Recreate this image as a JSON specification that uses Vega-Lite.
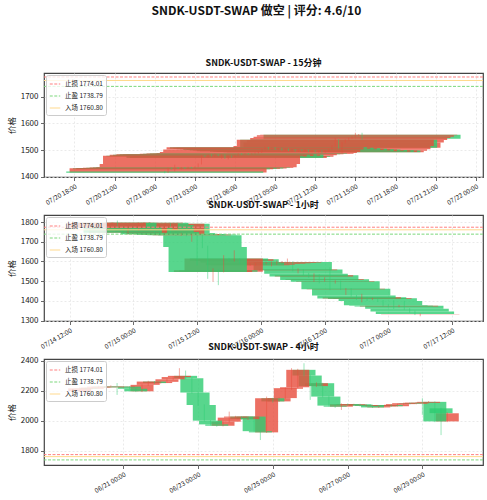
{
  "$schema": "https://vega.github.io/schema/vega-lite/v6.json",
  "background": "white",
  "padding": {"left": 6, "top": 5, "right": 4, "bottom": 4},
  "bounds": "flush",
  "spacing": 38,
  "title": {"text": "SNDK-USDT-SWAP 做空 | 评分: 4.6/10", "fontSize": 12, "fontWeight": "bold", "anchor": "middle", "offset": 40, "dx": 11, "color": "#111111"},
  "datasets": {
    "levels": [
      {"label": "止损 1774.01", "price": 1774.01},
      {"label": "止盈 1738.79", "price": 1738.79},
      {"label": "入场 1760.80", "price": 1760.80}
    ],
    "m15": [
      {"t": "2025-07-21T15:30:00", "o": 1557, "h": 1565, "l": 1539, "c": 1542},
      {"t": "2025-07-21T15:15:00", "o": 1556, "h": 1560, "l": 1552, "c": 1557},
      {"t": "2025-07-21T15:00:00", "o": 1550, "h": 1565, "l": 1548, "c": 1556},
      {"t": "2025-07-21T14:45:00", "o": 1545, "h": 1552, "l": 1543, "c": 1550},
      {"t": "2025-07-21T14:30:00", "o": 1538, "h": 1547, "l": 1536, "c": 1545},
      {"t": "2025-07-21T14:15:00", "o": 1528, "h": 1540, "l": 1526, "c": 1538},
      {"t": "2025-07-21T14:00:00", "o": 1509, "h": 1530, "l": 1490, "c": 1528},
      {"t": "2025-07-21T13:45:00", "o": 1539, "h": 1541, "l": 1505, "c": 1509},
      {"t": "2025-07-21T13:30:00", "o": 1515, "h": 1545, "l": 1513, "c": 1539},
      {"t": "2025-07-21T13:15:00", "o": 1503, "h": 1517, "l": 1501, "c": 1515},
      {"t": "2025-07-21T13:00:00", "o": 1497, "h": 1504, "l": 1495, "c": 1503},
      {"t": "2025-07-21T12:45:00", "o": 1492, "h": 1498, "l": 1490, "c": 1497},
      {"t": "2025-07-21T12:30:00", "o": 1498, "h": 1499, "l": 1490, "c": 1492},
      {"t": "2025-07-21T12:15:00", "o": 1493, "h": 1499, "l": 1491, "c": 1498},
      {"t": "2025-07-21T12:00:00", "o": 1499, "h": 1500, "l": 1491, "c": 1493},
      {"t": "2025-07-21T11:45:00", "o": 1494, "h": 1500, "l": 1492, "c": 1499},
      {"t": "2025-07-21T11:30:00", "o": 1500, "h": 1502, "l": 1492, "c": 1494},
      {"t": "2025-07-21T11:15:00", "o": 1497, "h": 1501, "l": 1495, "c": 1500},
      {"t": "2025-07-21T11:00:00", "o": 1502, "h": 1503, "l": 1495, "c": 1497},
      {"t": "2025-07-21T10:45:00", "o": 1496, "h": 1503, "l": 1495, "c": 1502},
      {"t": "2025-07-21T10:30:00", "o": 1503, "h": 1504, "l": 1494, "c": 1496},
      {"t": "2025-07-21T10:15:00", "o": 1498, "h": 1504, "l": 1496, "c": 1503},
      {"t": "2025-07-21T10:00:00", "o": 1505, "h": 1506, "l": 1496, "c": 1498},
      {"t": "2025-07-21T09:45:00", "o": 1500, "h": 1506, "l": 1498, "c": 1505},
      {"t": "2025-07-21T09:30:00", "o": 1507, "h": 1508, "l": 1498, "c": 1500},
      {"t": "2025-07-21T09:15:00", "o": 1503, "h": 1508, "l": 1500, "c": 1507},
      {"t": "2025-07-21T09:00:00", "o": 1509, "h": 1511, "l": 1501, "c": 1503},
      {"t": "2025-07-21T08:45:00", "o": 1505, "h": 1510, "l": 1503, "c": 1509},
      {"t": "2025-07-21T08:30:00", "o": 1511, "h": 1512, "l": 1503, "c": 1505},
      {"t": "2025-07-21T08:15:00", "o": 1502, "h": 1513, "l": 1500, "c": 1511},
      {"t": "2025-07-21T08:00:00", "o": 1493, "h": 1504, "l": 1490, "c": 1502},
      {"t": "2025-07-21T07:45:00", "o": 1489, "h": 1495, "l": 1487, "c": 1493},
      {"t": "2025-07-21T07:30:00", "o": 1486, "h": 1491, "l": 1485, "c": 1489},
      {"t": "2025-07-21T07:15:00", "o": 1485, "h": 1488, "l": 1484, "c": 1486},
      {"t": "2025-07-21T07:00:00", "o": 1487, "h": 1489, "l": 1483, "c": 1485},
      {"t": "2025-07-21T06:45:00", "o": 1484, "h": 1488, "l": 1483, "c": 1487},
      {"t": "2025-07-21T06:30:00", "o": 1486, "h": 1488, "l": 1482, "c": 1484},
      {"t": "2025-07-21T06:15:00", "o": 1481, "h": 1487, "l": 1479, "c": 1486},
      {"t": "2025-07-21T06:00:00", "o": 1475, "h": 1482, "l": 1474, "c": 1481},
      {"t": "2025-07-21T05:45:00", "o": 1478, "h": 1480, "l": 1472, "c": 1475},
      {"t": "2025-07-21T05:30:00", "o": 1470, "h": 1479, "l": 1465, "c": 1478},
      {"t": "2025-07-21T05:15:00", "o": 1483, "h": 1484, "l": 1467, "c": 1470},
      {"t": "2025-07-21T05:00:00", "o": 1479, "h": 1484, "l": 1468, "c": 1483},
      {"t": "2025-07-21T04:45:00", "o": 1484, "h": 1485, "l": 1477, "c": 1479},
      {"t": "2025-07-21T04:30:00", "o": 1478, "h": 1486, "l": 1476, "c": 1484},
      {"t": "2025-07-21T04:15:00", "o": 1482, "h": 1484, "l": 1476, "c": 1478},
      {"t": "2025-07-21T04:00:00", "o": 1476, "h": 1483, "l": 1473, "c": 1482},
      {"t": "2025-07-21T03:45:00", "o": 1479, "h": 1481, "l": 1474, "c": 1476},
      {"t": "2025-07-21T03:30:00", "o": 1448, "h": 1481, "l": 1446, "c": 1479},
      {"t": "2025-07-21T03:15:00", "o": 1436, "h": 1450, "l": 1435, "c": 1448},
      {"t": "2025-07-21T03:00:00", "o": 1433, "h": 1438, "l": 1431, "c": 1436},
      {"t": "2025-07-21T02:45:00", "o": 1435, "h": 1437, "l": 1431, "c": 1433},
      {"t": "2025-07-21T02:30:00", "o": 1431, "h": 1437, "l": 1430, "c": 1435},
      {"t": "2025-07-21T02:15:00", "o": 1434, "h": 1436, "l": 1429, "c": 1431},
      {"t": "2025-07-21T02:00:00", "o": 1430, "h": 1436, "l": 1428, "c": 1434},
      {"t": "2025-07-21T01:45:00", "o": 1433, "h": 1436, "l": 1429, "c": 1430},
      {"t": "2025-07-21T01:30:00", "o": 1428, "h": 1445, "l": 1420, "c": 1433},
      {"t": "2025-07-21T01:15:00", "o": 1432, "h": 1434, "l": 1427, "c": 1428},
      {"t": "2025-07-21T01:00:00", "o": 1416, "h": 1434, "l": 1414, "c": 1432},
      {"t": "2025-07-21T00:45:00", "o": 1420, "h": 1422, "l": 1413, "c": 1415}
    ],
    "h1": [
      {"t": "2025-07-17T06:00:00", "o": 1332, "h": 1336, "l": 1322, "c": 1334},
      {"t": "2025-07-17T05:00:00", "o": 1346, "h": 1350, "l": 1328, "c": 1333},
      {"t": "2025-07-17T04:00:00", "o": 1360, "h": 1363, "l": 1340, "c": 1346},
      {"t": "2025-07-17T03:00:00", "o": 1376, "h": 1400, "l": 1355, "c": 1360},
      {"t": "2025-07-17T02:00:00", "o": 1372, "h": 1380, "l": 1368, "c": 1376},
      {"t": "2025-07-17T01:00:00", "o": 1375, "h": 1404, "l": 1359, "c": 1372},
      {"t": "2025-07-17T00:00:00", "o": 1378, "h": 1382, "l": 1368, "c": 1375},
      {"t": "2025-07-16T23:00:00", "o": 1400, "h": 1404, "l": 1372, "c": 1378},
      {"t": "2025-07-16T22:00:00", "o": 1413, "h": 1415, "l": 1395, "c": 1400},
      {"t": "2025-07-16T21:00:00", "o": 1410, "h": 1416, "l": 1404, "c": 1413},
      {"t": "2025-07-16T20:00:00", "o": 1418, "h": 1420, "l": 1400, "c": 1410},
      {"t": "2025-07-16T19:00:00", "o": 1412, "h": 1436, "l": 1393, "c": 1418},
      {"t": "2025-07-16T18:00:00", "o": 1427, "h": 1430, "l": 1405, "c": 1412},
      {"t": "2025-07-16T17:00:00", "o": 1462, "h": 1464, "l": 1422, "c": 1427},
      {"t": "2025-07-16T16:00:00", "o": 1459, "h": 1465, "l": 1430, "c": 1462},
      {"t": "2025-07-16T15:00:00", "o": 1500, "h": 1503, "l": 1455, "c": 1459},
      {"t": "2025-07-16T14:00:00", "o": 1497, "h": 1505, "l": 1488, "c": 1500},
      {"t": "2025-07-16T13:00:00", "o": 1510, "h": 1570, "l": 1455, "c": 1497},
      {"t": "2025-07-16T12:00:00", "o": 1506, "h": 1520, "l": 1498, "c": 1510},
      {"t": "2025-07-16T11:00:00", "o": 1530, "h": 1535, "l": 1490, "c": 1506},
      {"t": "2025-07-16T10:00:00", "o": 1524, "h": 1540, "l": 1497, "c": 1530},
      {"t": "2025-07-16T09:00:00", "o": 1538, "h": 1542, "l": 1518, "c": 1524},
      {"t": "2025-07-16T08:00:00", "o": 1560, "h": 1562, "l": 1530, "c": 1538},
      {"t": "2025-07-16T07:00:00", "o": 1556, "h": 1565, "l": 1540, "c": 1560},
      {"t": "2025-07-16T06:00:00", "o": 1598, "h": 1600, "l": 1550, "c": 1556},
      {"t": "2025-07-16T05:00:00", "o": 1597, "h": 1615, "l": 1590, "c": 1598},
      {"t": "2025-07-16T04:00:00", "o": 1595, "h": 1602, "l": 1590, "c": 1597},
      {"t": "2025-07-16T03:00:00", "o": 1593, "h": 1605, "l": 1583, "c": 1595},
      {"t": "2025-07-16T02:00:00", "o": 1591, "h": 1600, "l": 1575, "c": 1593},
      {"t": "2025-07-16T01:00:00", "o": 1589, "h": 1598, "l": 1585, "c": 1591},
      {"t": "2025-07-16T00:00:00", "o": 1587, "h": 1595, "l": 1583, "c": 1589},
      {"t": "2025-07-15T23:00:00", "o": 1584, "h": 1592, "l": 1580, "c": 1587},
      {"t": "2025-07-15T22:00:00", "o": 1581, "h": 1590, "l": 1578, "c": 1584},
      {"t": "2025-07-15T21:00:00", "o": 1595, "h": 1598, "l": 1575, "c": 1581},
      {"t": "2025-07-15T20:00:00", "o": 1612, "h": 1615, "l": 1590, "c": 1595},
      {"t": "2025-07-15T19:00:00", "o": 1604, "h": 1657, "l": 1600, "c": 1612},
      {"t": "2025-07-15T18:00:00", "o": 1615, "h": 1618, "l": 1598, "c": 1604},
      {"t": "2025-07-15T17:00:00", "o": 1548, "h": 1632, "l": 1545, "c": 1615},
      {"t": "2025-07-15T16:00:00", "o": 1556, "h": 1560, "l": 1480, "c": 1548},
      {"t": "2025-07-15T15:00:00", "o": 1547, "h": 1565, "l": 1497, "c": 1556},
      {"t": "2025-07-15T14:00:00", "o": 1674, "h": 1680, "l": 1512, "c": 1547},
      {"t": "2025-07-15T13:00:00", "o": 1733, "h": 1736, "l": 1668, "c": 1674},
      {"t": "2025-07-15T12:00:00", "o": 1737, "h": 1740, "l": 1580, "c": 1733},
      {"t": "2025-07-15T11:00:00", "o": 1733, "h": 1740, "l": 1700, "c": 1737},
      {"t": "2025-07-15T10:00:00", "o": 1740, "h": 1744, "l": 1728, "c": 1733},
      {"t": "2025-07-15T09:00:00", "o": 1735, "h": 1745, "l": 1730, "c": 1740},
      {"t": "2025-07-15T08:00:00", "o": 1745, "h": 1750, "l": 1730, "c": 1735},
      {"t": "2025-07-15T07:00:00", "o": 1792, "h": 1795, "l": 1740, "c": 1745},
      {"t": "2025-07-15T06:00:00", "o": 1738, "h": 1796, "l": 1736, "c": 1792},
      {"t": "2025-07-15T05:00:00", "o": 1750, "h": 1755, "l": 1734, "c": 1738},
      {"t": "2025-07-15T04:00:00", "o": 1785, "h": 1788, "l": 1745, "c": 1750},
      {"t": "2025-07-15T03:00:00", "o": 1797, "h": 1800, "l": 1780, "c": 1785},
      {"t": "2025-07-15T02:00:00", "o": 1794, "h": 1800, "l": 1790, "c": 1797},
      {"t": "2025-07-15T01:00:00", "o": 1760, "h": 1798, "l": 1757, "c": 1794},
      {"t": "2025-07-15T00:00:00", "o": 1771, "h": 1774, "l": 1755, "c": 1760},
      {"t": "2025-07-14T23:00:00", "o": 1746, "h": 1775, "l": 1742, "c": 1771},
      {"t": "2025-07-14T22:00:00", "o": 1772, "h": 1776, "l": 1742, "c": 1746},
      {"t": "2025-07-14T21:00:00", "o": 1797, "h": 1808, "l": 1768, "c": 1772},
      {"t": "2025-07-14T20:00:00", "o": 1795, "h": 1799, "l": 1790, "c": 1797},
      {"t": "2025-07-14T19:00:00", "o": 1771, "h": 1800, "l": 1765, "c": 1795}
    ],
    "h4": [
      {"t": "2025-06-29T16:00:00", "o": 1995, "h": 2055, "l": 1990, "c": 2049},
      {"t": "2025-06-29T12:00:00", "o": 2082, "h": 2085, "l": 1904, "c": 2050},
      {"t": "2025-06-29T08:00:00", "o": 2125, "h": 2128, "l": 1990, "c": 1995},
      {"t": "2025-06-29T04:00:00", "o": 2118, "h": 2130, "l": 2114, "c": 2125},
      {"t": "2025-06-29T00:00:00", "o": 2120, "h": 2149, "l": 2038, "c": 2118},
      {"t": "2025-06-28T20:00:00", "o": 2112, "h": 2124, "l": 2108, "c": 2120},
      {"t": "2025-06-28T16:00:00", "o": 2116, "h": 2122, "l": 2108, "c": 2112},
      {"t": "2025-06-28T12:00:00", "o": 2110, "h": 2120, "l": 2106, "c": 2116},
      {"t": "2025-06-28T08:00:00", "o": 2096, "h": 2114, "l": 2093, "c": 2110},
      {"t": "2025-06-28T04:00:00", "o": 2104, "h": 2108, "l": 2092, "c": 2096},
      {"t": "2025-06-28T00:00:00", "o": 2095, "h": 2108, "l": 2090, "c": 2104},
      {"t": "2025-06-27T20:00:00", "o": 2088, "h": 2100, "l": 2085, "c": 2095},
      {"t": "2025-06-27T16:00:00", "o": 2104, "h": 2107, "l": 2084, "c": 2088},
      {"t": "2025-06-27T12:00:00", "o": 2098, "h": 2108, "l": 2093, "c": 2104},
      {"t": "2025-06-27T08:00:00", "o": 2109, "h": 2112, "l": 2094, "c": 2098},
      {"t": "2025-06-27T04:00:00", "o": 2104, "h": 2112, "l": 2100, "c": 2109},
      {"t": "2025-06-27T00:00:00", "o": 2110, "h": 2114, "l": 2098, "c": 2104},
      {"t": "2025-06-26T20:00:00", "o": 2093, "h": 2115, "l": 2071, "c": 2110},
      {"t": "2025-06-26T16:00:00", "o": 2100, "h": 2110, "l": 2085, "c": 2093},
      {"t": "2025-06-26T12:00:00", "o": 2160, "h": 2165, "l": 2095, "c": 2100},
      {"t": "2025-06-26T08:00:00", "o": 2249, "h": 2252, "l": 2155, "c": 2160},
      {"t": "2025-06-26T04:00:00", "o": 2230, "h": 2255, "l": 2225, "c": 2249},
      {"t": "2025-06-26T00:00:00", "o": 2300, "h": 2305, "l": 2138, "c": 2230},
      {"t": "2025-06-25T20:00:00", "o": 2338, "h": 2382, "l": 2295, "c": 2300},
      {"t": "2025-06-25T16:00:00", "o": 2222, "h": 2345, "l": 2215, "c": 2338},
      {"t": "2025-06-25T12:00:00", "o": 2212, "h": 2349, "l": 2205, "c": 2222},
      {"t": "2025-06-25T08:00:00", "o": 2150, "h": 2220, "l": 2145, "c": 2216},
      {"t": "2025-06-25T04:00:00", "o": 2128, "h": 2155, "l": 2124, "c": 2150},
      {"t": "2025-06-25T00:00:00", "o": 2149, "h": 2152, "l": 2120, "c": 2128},
      {"t": "2025-06-24T20:00:00", "o": 1922, "h": 2160, "l": 1918, "c": 2149},
      {"t": "2025-06-24T16:00:00", "o": 1930, "h": 1935, "l": 1871, "c": 1922},
      {"t": "2025-06-24T12:00:00", "o": 2027, "h": 2030, "l": 1925, "c": 1930},
      {"t": "2025-06-24T08:00:00", "o": 2010, "h": 2030, "l": 2005, "c": 2027},
      {"t": "2025-06-24T04:00:00", "o": 2027, "h": 2030, "l": 2005, "c": 2010},
      {"t": "2025-06-24T00:00:00", "o": 2020, "h": 2032, "l": 2015, "c": 2027},
      {"t": "2025-06-23T20:00:00", "o": 1993, "h": 2060, "l": 1988, "c": 2020},
      {"t": "2025-06-23T16:00:00", "o": 1966, "h": 1998, "l": 1962, "c": 1993},
      {"t": "2025-06-23T12:00:00", "o": 1975, "h": 1982, "l": 1960, "c": 1966},
      {"t": "2025-06-23T08:00:00", "o": 2000, "h": 2004, "l": 1968, "c": 1975},
      {"t": "2025-06-23T04:00:00", "o": 2104, "h": 2108, "l": 1994, "c": 2000},
      {"t": "2025-06-23T00:00:00", "o": 2187, "h": 2190, "l": 2098, "c": 2104},
      {"t": "2025-06-22T20:00:00", "o": 2282, "h": 2286, "l": 2180, "c": 2187},
      {"t": "2025-06-22T16:00:00", "o": 2298, "h": 2333, "l": 2276, "c": 2282},
      {"t": "2025-06-22T12:00:00", "o": 2290, "h": 2349, "l": 2285, "c": 2298},
      {"t": "2025-06-22T08:00:00", "o": 2275, "h": 2296, "l": 2270, "c": 2290},
      {"t": "2025-06-22T04:00:00", "o": 2258, "h": 2280, "l": 2254, "c": 2275},
      {"t": "2025-06-22T00:00:00", "o": 2250, "h": 2262, "l": 2246, "c": 2258},
      {"t": "2025-06-21T20:00:00", "o": 2260, "h": 2264, "l": 2245, "c": 2250},
      {"t": "2025-06-21T16:00:00", "o": 2238, "h": 2265, "l": 2232, "c": 2260},
      {"t": "2025-06-21T12:00:00", "o": 2195, "h": 2242, "l": 2190, "c": 2238},
      {"t": "2025-06-21T08:00:00", "o": 2212, "h": 2215, "l": 2190, "c": 2195},
      {"t": "2025-06-21T04:00:00", "o": 2226, "h": 2230, "l": 2208, "c": 2212},
      {"t": "2025-06-21T00:00:00", "o": 2223, "h": 2230, "l": 2218, "c": 2226},
      {"t": "2025-06-20T20:00:00", "o": 2226, "h": 2250, "l": 2171, "c": 2223},
      {"t": "2025-06-20T16:00:00", "o": 2222, "h": 2235, "l": 2218, "c": 2226},
      {"t": "2025-06-20T12:00:00", "o": 2226, "h": 2230, "l": 2218, "c": 2222},
      {"t": "2025-06-20T08:00:00", "o": 2220, "h": 2232, "l": 2215, "c": 2226},
      {"t": "2025-06-20T04:00:00", "o": 2212, "h": 2226, "l": 2208, "c": 2220},
      {"t": "2025-06-20T00:00:00", "o": 2215, "h": 2220, "l": 2205, "c": 2212},
      {"t": "2025-06-19T20:00:00", "o": 2195, "h": 2222, "l": 2190, "c": 2215}
    ]
  },
  "vconcat": [
    {
      "title": {"text": "SNDK-USDT-SWAP - 15分钟", "fontSize": 9, "fontWeight": "bold", "offset": 5, "color": "#111111"},
      "width": 439,
      "height": 104,
      "layer": [
        {
          "data": {"name": "m15"},
          "mark": {"type": "bar", "size": 197, "opacity": 0.8, "clip": true},
          "encoding": {
            "x": {"field": "t", "type": "temporal",
              "scale": {"domain": [{"year": 2025, "month": 7, "date": 20, "hours": 16, "minutes": 6}, {"year": 2025, "month": 7, "date": 22, "hours": 0, "minutes": 10}]},
              "axis": {"title": null, "format": "%m/%d %H:%M", "tickCount": 30,
                "values": [
                  {"year": 2025, "month": 7, "date": 20, "hours": 18},
                  {"year": 2025, "month": 7, "date": 20, "hours": 21},
                  {"year": 2025, "month": 7, "date": 21, "hours": 0},
                  {"year": 2025, "month": 7, "date": 21, "hours": 3},
                  {"year": 2025, "month": 7, "date": 21, "hours": 6},
                  {"year": 2025, "month": 7, "date": 21, "hours": 9},
                  {"year": 2025, "month": 7, "date": 21, "hours": 12},
                  {"year": 2025, "month": 7, "date": 21, "hours": 15},
                  {"year": 2025, "month": 7, "date": 21, "hours": 18},
                  {"year": 2025, "month": 7, "date": 21, "hours": 21},
                  {"year": 2025, "month": 7, "date": 22, "hours": 0}
                ]}},
            "y": {"field": "o", "type": "quantitative", "scale": {"domain": [1399, 1789], "zero": false, "nice": false},
              "axis": {"title": "价格", "format": "d", "tickCount": 20, "values": [1400, 1500, 1600, 1700], "labelOverlap": false, "labelAngle": 0, "labelAlign": "right", "labelBaseline": "middle"}},
            "y2": {"field": "c"},
            "color": {"condition": {"test": "datum.c >= datum.o", "value": "#e74c3c"}, "value": "#2ecc71"}
          }
        },
        {
          "data": {"name": "m15"},
          "mark": {"type": "rule", "strokeWidth": 0.8, "opacity": 0.6, "clip": true},
          "encoding": {
            "x": {"field": "t", "type": "temporal"},
            "y": {"field": "l", "type": "quantitative"},
            "y2": {"field": "h"},
            "color": {"condition": {"test": "datum.c >= datum.o", "value": "#e74c3c"}, "value": "#2ecc71"}
          }
        },
        {
          "data": {"name": "levels"},
          "mark": {"type": "rule", "strokeWidth": 1},
          "encoding": {
            "y": {"field": "price", "type": "quantitative"},
            "color": {"field": "label", "type": "nominal", "scale": {"domain": ["止损 1774.01", "止盈 1738.79", "入场 1760.80"], "range": ["#ff8080", "#7dd87d", "#ffd98c"]}, "legend": {"title": null}},
            "strokeDash": {"field": "label", "type": "nominal", "scale": {"domain": ["止损 1774.01", "止盈 1738.79", "入场 1760.80"], "range": [[3, 1.5], [3, 1.5], [1, 0]]}, "legend": {"title": null}}
          }
        }
      ]
    },
    {
      "title": {"text": "SNDK-USDT-SWAP - 1小时", "fontSize": 9, "fontWeight": "bold", "offset": 5, "color": "#111111"},
      "width": 439,
      "height": 106,
      "layer": [
        {
          "data": {"name": "h1"},
          "mark": {"type": "bar", "size": 78.3, "opacity": 0.8, "clip": true},
          "encoding": {
            "x": {"field": "t", "type": "temporal",
              "scale": {"domain": [{"year": 2025, "month": 7, "date": 14, "hours": 8, "minutes": 8}, {"year": 2025, "month": 7, "date": 17, "hours": 16, "minutes": 52}]},
              "axis": {"title": null, "format": "%m/%d %H:%M", "tickCount": 30,
                "values": [
                  {"year": 2025, "month": 7, "date": 14, "hours": 12},
                  {"year": 2025, "month": 7, "date": 15, "hours": 0},
                  {"year": 2025, "month": 7, "date": 15, "hours": 12},
                  {"year": 2025, "month": 7, "date": 16, "hours": 0},
                  {"year": 2025, "month": 7, "date": 16, "hours": 12},
                  {"year": 2025, "month": 7, "date": 17, "hours": 0},
                  {"year": 2025, "month": 7, "date": 17, "hours": 12}
                ]}},
            "y": {"field": "o", "type": "quantitative", "scale": {"domain": [1298, 1836], "zero": false, "nice": false},
              "axis": {"title": "价格", "format": "d", "tickCount": 20, "values": [1300, 1400, 1500, 1600, 1700, 1800], "labelOverlap": false, "labelAngle": 0, "labelAlign": "right", "labelBaseline": "middle"}},
            "y2": {"field": "c"},
            "color": {"condition": {"test": "datum.c >= datum.o", "value": "#e74c3c"}, "value": "#2ecc71"}
          }
        },
        {
          "data": {"name": "h1"},
          "mark": {"type": "rule", "strokeWidth": 0.8, "opacity": 0.6, "clip": true},
          "encoding": {
            "x": {"field": "t", "type": "temporal"},
            "y": {"field": "l", "type": "quantitative"},
            "y2": {"field": "h"},
            "color": {"condition": {"test": "datum.c >= datum.o", "value": "#e74c3c"}, "value": "#2ecc71"}
          }
        },
        {
          "data": {"name": "levels"},
          "mark": {"type": "rule", "strokeWidth": 1},
          "encoding": {
            "y": {"field": "price", "type": "quantitative"},
            "color": {"field": "label", "type": "nominal", "scale": {"domain": ["止损 1774.01", "止盈 1738.79", "入场 1760.80"], "range": ["#ff8080", "#7dd87d", "#ffd98c"]}, "legend": {"title": null}},
            "strokeDash": {"field": "label", "type": "nominal", "scale": {"domain": ["止损 1774.01", "止盈 1738.79", "入场 1760.80"], "range": [[3, 1.5], [3, 1.5], [1, 0]]}, "legend": {"title": null}}
          }
        }
      ]
    },
    {
      "title": {"text": "SNDK-USDT-SWAP - 4小时", "fontSize": 9, "fontWeight": "bold", "offset": 5, "color": "#111111"},
      "width": 439,
      "height": 106,
      "layer": [
        {
          "data": {"name": "h4"},
          "mark": {"type": "bar", "size": 23, "opacity": 0.8, "clip": true},
          "encoding": {
            "x": {"field": "t", "type": "temporal",
              "scale": {"domain": [{"year": 2025, "month": 6, "date": 19, "hours": 0, "minutes": 17}, {"year": 2025, "month": 6, "date": 30, "hours": 11, "minutes": 43}]},
              "axis": {"title": null, "format": "%m/%d %H:%M", "tickCount": 30,
                "values": [
                  {"year": 2025, "month": 6, "date": 21},
                  {"year": 2025, "month": 6, "date": 23},
                  {"year": 2025, "month": 6, "date": 25},
                  {"year": 2025, "month": 6, "date": 27},
                  {"year": 2025, "month": 6, "date": 29}
                ]}},
            "y": {"field": "o", "type": "quantitative", "scale": {"domain": [1705, 2410], "zero": false, "nice": false},
              "axis": {"title": "价格", "format": "d", "tickCount": 20, "values": [1800, 2000, 2200, 2400], "labelOverlap": false, "labelAngle": 0, "labelAlign": "right", "labelBaseline": "middle"}},
            "y2": {"field": "c"},
            "color": {"condition": {"test": "datum.c >= datum.o", "value": "#e74c3c"}, "value": "#2ecc71"}
          }
        },
        {
          "data": {"name": "h4"},
          "mark": {"type": "rule", "strokeWidth": 0.8, "opacity": 0.6, "clip": true},
          "encoding": {
            "x": {"field": "t", "type": "temporal"},
            "y": {"field": "l", "type": "quantitative"},
            "y2": {"field": "h"},
            "color": {"condition": {"test": "datum.c >= datum.o", "value": "#e74c3c"}, "value": "#2ecc71"}
          }
        },
        {
          "data": {"name": "levels"},
          "mark": {"type": "rule", "strokeWidth": 1},
          "encoding": {
            "y": {"field": "price", "type": "quantitative"},
            "color": {"field": "label", "type": "nominal", "scale": {"domain": ["止损 1774.01", "止盈 1738.79", "入场 1760.80"], "range": ["#ff8080", "#7dd87d", "#ffd98c"]}, "legend": {"title": null}},
            "strokeDash": {"field": "label", "type": "nominal", "scale": {"domain": ["止损 1774.01", "止盈 1738.79", "入场 1760.80"], "range": [[3, 1.5], [3, 1.5], [1, 0]]}, "legend": {"title": null}}
          }
        }
      ]
    }
  ],
  "resolve": {
    "scale": {"x": "independent", "y": "independent", "color": "independent", "strokeDash": "independent"},
    "axis": {"x": "independent", "y": "independent"},
    "legend": {"color": "independent", "strokeDash": "independent"}
  },
  "config": {
    "font": "Noto Sans CJK SC",
    "view": {"stroke": "#444444", "strokeWidth": 1.2},
    "axis": {"domain": false, "grid": true, "gridColor": "#e4e4e4", "gridDash": [2, 2], "gridWidth": 0.8,
      "tickColor": "#444444", "tickSize": 3.5, "tickWidth": 0.8, "labelColor": "#222222", "labelFontSize": 8,
      "labelPadding": 2.5, "titleFontWeight": "normal", "titleFontSize": 8.5, "titleColor": "#222222", "titlePadding": 4},
    "axisX": {"labelAngle": -30, "labelAlign": "right", "labelBaseline": "top", "labelFontSize": 6.5, "labelOverlap": false, "labelFlush": false, "labelBound": false},
    "legend": {"orient": "top-left", "offset": 2, "padding": 3, "fillColor": "rgba(255,255,255,0.8)", "strokeColor": "#cccccc", "cornerRadius": 2,
      "labelFontSize": 6.5, "labelColor": "#222222", "symbolType": "stroke", "symbolSize": 110, "symbolStrokeWidth": 1.2, "rowPadding": 2, "labelOffset": 4}
  }
}
